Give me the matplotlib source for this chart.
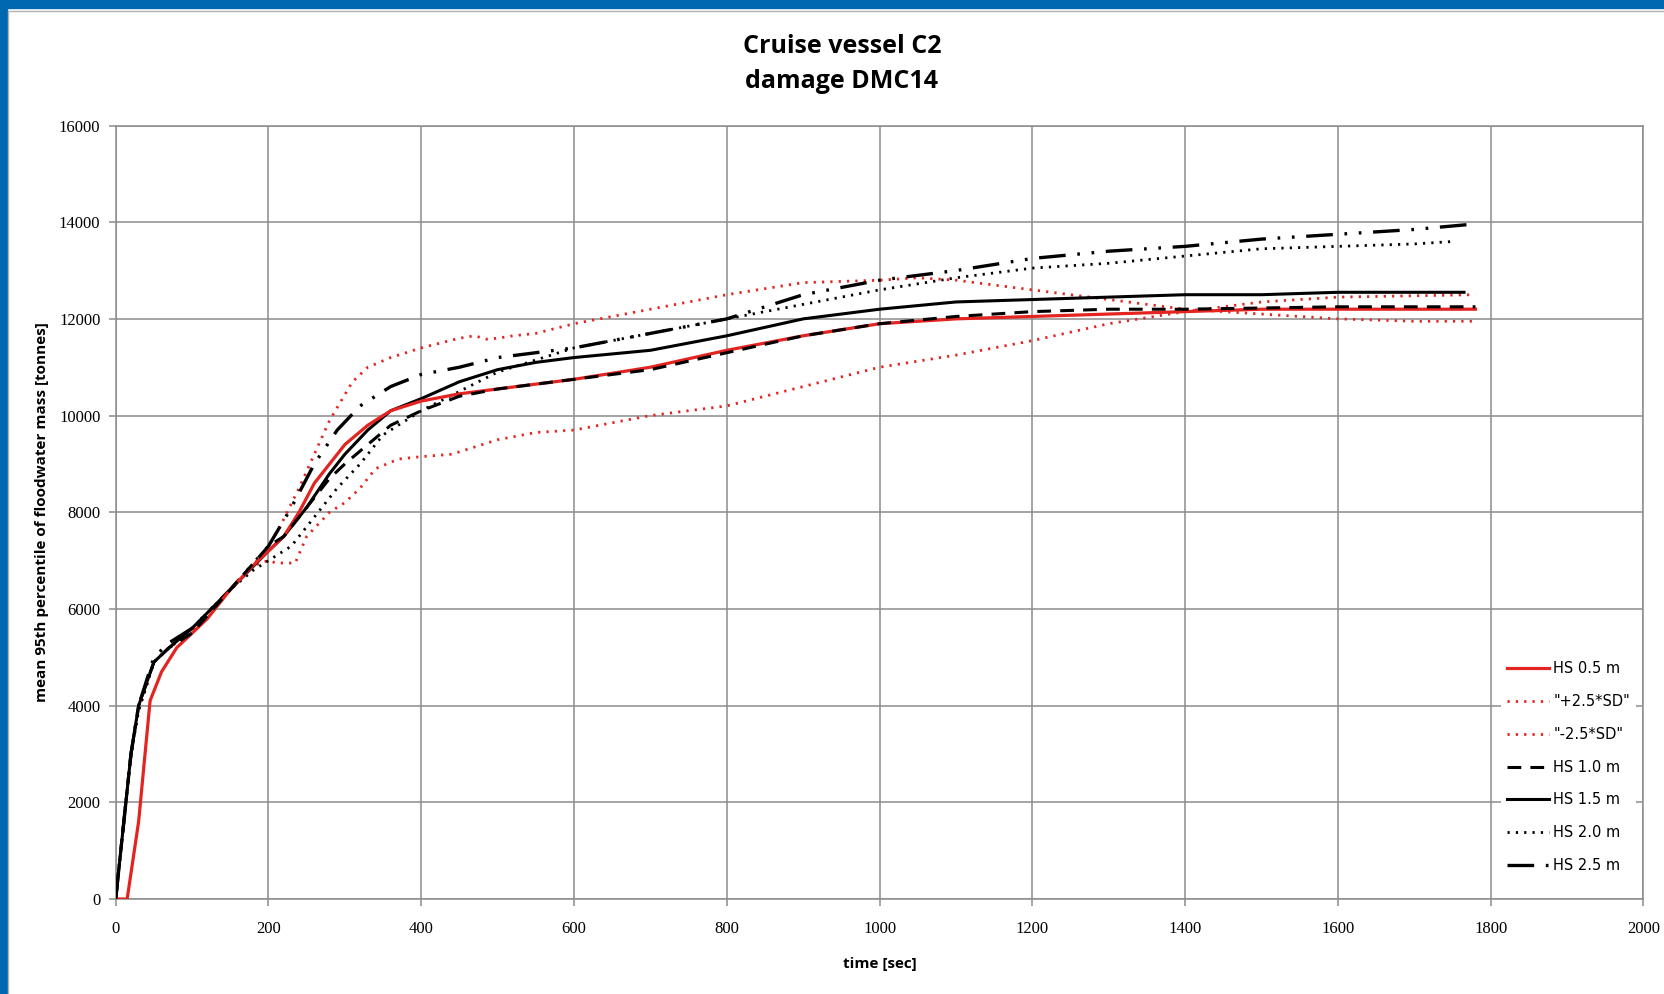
import matplotlib
matplotlib.use('Agg')
import matplotlib.pyplot as plt
from matplotlib.patches import Rectangle
import numpy as np

# time [sec] and mean 95th percentile floodwater mass [tonnes]
t_hs05 = [0, 15, 30, 45, 60, 80, 100, 120, 150, 180, 200, 220, 240, 260, 280, 300, 330, 360,
          400, 450, 500, 600, 700, 800, 900, 1000, 1100, 1200, 1300, 1400, 1500, 1600, 1700, 1780]
m_hs05 = [0, 0, 1600, 4100, 4700, 5200, 5500, 5800, 6400, 6900, 7200, 7500, 8000, 8600, 9000, 9400, 9800, 10100,
          10300, 10450, 10550, 10750, 11000, 11350, 11650, 11900, 12000, 12050, 12100, 12150, 12200, 12200, 12200, 12200]

t_plus = [0, 10, 20, 30, 50, 70, 100, 150, 180, 200, 215, 240, 260, 280, 310, 330, 360, 400, 450, 470,
          485, 500, 520, 550, 600, 700, 800, 900, 1000, 1050, 1100, 1200, 1300, 1400, 1500, 1600, 1700, 1780]
m_plus = [0, 1500, 3000, 3900, 4900, 5200, 5550, 6400, 6900, 7300, 7700, 8500, 9200, 9900, 10700, 11000, 11200, 11400, 11600, 11650,
          11580, 11600, 11650, 11700, 11900, 12200, 12500, 12750, 12800, 12850, 12800, 12600, 12400, 12200, 12100, 12000, 11950, 11950]

t_minus = [0, 10, 20, 30, 50, 70, 100, 150, 180, 200, 210, 235, 250, 280, 300, 320, 340, 370, 400, 440,
           470, 500, 550, 600, 650, 700, 800, 900, 1000, 1100, 1200, 1300, 1400, 1500, 1600, 1780]
m_minus = [0, 1500, 3000, 3900, 4900, 5200, 5550, 6400, 6900, 7000, 6950, 6950, 7500, 8000, 8200, 8500, 8900, 9100, 9150, 9200,
           9350, 9500, 9650, 9700, 9850, 10000, 10200, 10600, 11000, 11250, 11550, 11900, 12150, 12350, 12450, 12500]

t_hs10 = [0, 10, 20, 30, 50, 70, 100, 150, 200, 220, 250, 280, 300, 330, 360, 400, 450, 500,
          600, 700, 800, 900, 1000, 1100, 1200, 1300, 1400, 1600, 1780]
m_hs10 = [0, 1500, 3000, 4000, 4900, 5200, 5500, 6400, 7300, 7500, 8100, 8700, 9000, 9400, 9800, 10100, 10400, 10550,
          10750, 10950, 11300, 11650, 11900, 12050, 12150, 12200, 12200, 12250, 12250]

t_hs15 = [0, 10, 20, 30, 50, 70, 100, 150, 200, 220, 250, 280, 300, 330, 360, 400, 450, 500, 550,
          600, 700, 800, 900, 1000, 1100, 1200, 1300, 1400, 1500, 1600, 1765]
m_hs15 = [0, 1500, 3000, 4000, 4900, 5200, 5600, 6400, 7200, 7500, 8100, 8800, 9200, 9700, 10100, 10350, 10700, 10950, 11100,
          11200, 11350, 11650, 12000, 12200, 12350, 12400, 12450, 12500, 12500, 12550, 12550]

t_hs20 = [0, 10, 20, 30, 50, 70, 100, 150, 180, 200, 230, 260, 290, 320, 350, 380, 400, 450, 500,
          600, 700, 800, 900, 1000, 1100, 1200, 1300, 1400, 1500, 1600, 1700, 1750]
m_hs20 = [0, 1500, 3000, 3900, 4900, 5200, 5600, 6400, 6800, 7000, 7300, 7900, 8500, 9000, 9600, 9900, 10100, 10500, 10900,
          11400, 11700, 12000, 12300, 12600, 12850, 13050, 13150, 13300, 13450, 13500, 13550, 13600]

t_hs25 = [0, 10, 20, 30, 50, 70, 100, 150, 200, 230, 260, 290, 320, 360, 400, 450, 500,
          600, 700, 800, 900, 1000, 1100, 1200, 1300, 1400, 1500, 1600, 1700, 1770]
m_hs25 = [0, 1500, 3000, 4000, 5000, 5300, 5600, 6400, 7300, 8100, 9000, 9700, 10200, 10600, 10850, 11000, 11200,
          11400, 11700, 12000, 12500, 12800, 13000, 13250, 13400, 13500, 13650, 13750, 13850, 13950]

x_ticks = list(range(0, 2001, 200))
y_ticks = list(range(0, 16001, 2000))

W, H = 1665, 994
fig = plt.figure(figsize=(W / 100, H / 100), dpi=100)

# blue frame of the slide, top and left
fig.patches.append(Rectangle((0, 1 - 8 / H), 1, 8 / H, transform=fig.transFigure, color='#0068b1', zorder=0))
fig.patches.append(Rectangle((0, 0), 7 / W, 1, transform=fig.transFigure, color='#0068b1', zorder=0))
fig.add_artist(plt.Line2D([9 / W, 1], [1 - 10.5 / H, 1 - 10.5 / H], transform=fig.transFigure, color='#b0b0b0', lw=1))
fig.add_artist(plt.Line2D([8.5 / W, 8.5 / W], [0, 1 - 10.5 / H], transform=fig.transFigure, color='#b0b0b0', lw=1))

ax = fig.add_axes([115.7 / W, 1 - 899 / H, (1643.5 - 115.7) / W, (899 - 125.5) / H])

red = '#e32420'
ax.plot(t_hs05, m_hs05, color=red, lw=2.3, label='HS 0.5 m', zorder=5)
ax.plot(t_plus, m_plus, color=red, lw=2.0, ls=(0, (0.8, 2.2)), label='"+2.5*SD"', zorder=4)
ax.plot(t_minus, m_minus, color=red, lw=2.0, ls=(0, (0.8, 2.2)), label='"-2.5*SD"', zorder=4)
ax.plot(t_hs10, m_hs10, color='black', lw=2.2, ls=(0, (4.5, 3)), label='HS 1.0 m', zorder=6)
ax.plot(t_hs15, m_hs15, color='black', lw=2.2, label='HS 1.5 m', zorder=4)
ax.plot(t_hs20, m_hs20, color='black', lw=2.0, ls=(0, (0.8, 2.2)), label='HS 2.0 m', zorder=4)
ax.plot(t_hs25, m_hs25, color='black', lw=2.4, ls=(0, (8, 3.5, 0.8, 3.5, 0.8, 3.5)), label='HS 2.5 m', zorder=4)

ax.set_xlim(0, 2000)
ax.set_ylim(0, 16000)
ax.set_xticks(x_ticks)
ax.set_yticks(y_ticks)
ax.grid(True, color='#8c8c8c', lw=1.1)
ax.set_axisbelow(True)
for s in ax.spines.values():
    s.set_color('#8c8c8c')
    s.set_linewidth(1.1)
ax.tick_params(axis='both', color='#8c8c8c', length=5, width=1.1, direction='out',
               labelsize=12)
ax.tick_params(axis='x', pad=11)
ax.tick_params(axis='y', pad=6)
for lab in ax.get_xticklabels() + ax.get_yticklabels():
    lab.set_family('Liberation Serif')

ax.set_xlabel('time [sec]', fontsize=11, fontweight='bold', family='Open Sans', labelpad=14)
ax.set_ylabel('mean 95th percentile of floodwater mass [tonnes]', fontsize=11, fontweight='bold',
              family='Open Sans', labelpad=7)
fig.text(842 / W, 1 - 64 / H, 'Cruise vessel C2\ndamage DMC14', ha='center', va='center',
         fontsize=18, fontweight='bold', family='Open Sans', linespacing=1.5)

leg = ax.legend(loc='lower right', bbox_to_anchor=(0.995, 0.026), frameon=True,
                prop={'family': 'Liberation Sans Narrow', 'size': 10.5}, handlelength=2.9, handletextpad=0.3,
                labelspacing=1.22, borderaxespad=0)
leg.get_frame().set_edgecolor('none')
leg.get_frame().set_facecolor('white')
leg.get_frame().set_alpha(1)

fig.savefig('out.png', dpi=100)
